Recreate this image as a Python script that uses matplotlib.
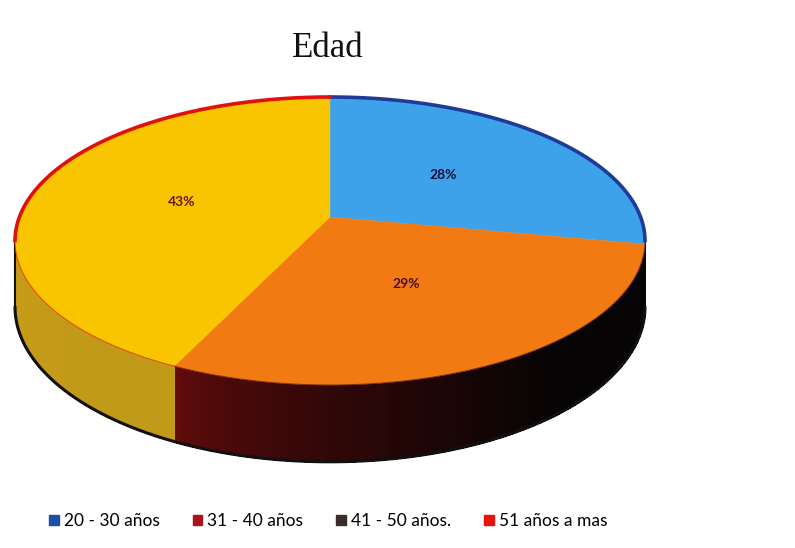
import numpy as np
import matplotlib
matplotlib.use("Agg")
import matplotlib.pyplot as plt
from matplotlib.patches import Patch
from matplotlib.colors import to_rgb

# ---------------- data ----------------
title = "Edad"
categories = ["20 - 30 años", "31 - 40 años", "41 - 50 años.", "51 años a mas"]
values = [28, 29, 0, 43]
pct_labels = ["28%", "29%", "", "43%"]

# ---------------- styles ----------------
legend_colors = ["#1f4fa3", "#a8141a", "#3b2b2b", "#e8140c"]
top_colors = ["#3ea2ea", "#f27a12", "#3b2b2b", "#f9c400"]
side_left = ["#1c1c48", "#6a0c0c", "#2a2020", "#cc9c14"]
side_right = ["#0a0a20", "#060404", "#2a2020", "#c29a1a"]
edge_colors = ["#1e3c96", "#5a1a0a", "#2a2020", "#e01010"]
label_colors = ["#10103a", "#4a0e0e", "#2a2020", "#6e1010"]

# projection geometry (pixels)
cx, cy = 330.0, 217.0
kx, ky = 310.6, 140.0
s = 1.0 / 6.0
h = 64.0

def proj(f, t_deg, z=0.0):
    t = np.radians(t_deg)
    a = f * np.cos(t)
    b = f * np.sin(t)
    den = 1 + s * b
    x = cx + kx * a / den
    y = cy + (-ky * b + h * z) / den
    return x, y

fig = plt.figure(figsize=(7.95, 5.48), dpi=100)
ax = fig.add_axes([0, 0, 1, 1])
ax.set_xlim(0, 795)
ax.set_ylim(548, 0)
ax.axis("off")

total = float(sum(values))
cum = np.concatenate([[0], np.cumsum(values)])
t_starts = 90 - 360 * cum[:-1] / total
t_ends = 90 - 360 * cum[1:] / total

tR = -np.degrees(np.arcsin(s))
tL = -180 + np.degrees(np.arcsin(s))

# ---- sides ----
for i, v in enumerate(values):
    if v <= 0:
        continue
    lo = max(t_ends[i], tL)
    hi = min(t_starts[i], tR)
    if hi <= lo:
        continue
    n = max(2, int((hi - lo) * 1.5))
    ts = np.linspace(lo, hi, n + 1)
    cL = np.array(to_rgb(side_left[i]))
    cRr = np.array(to_rgb(side_right[i]))
    for j in range(n):
        ta, tb = ts[j], ts[j + 1]
        w = ((ta + tb) / 2 - lo) / (hi - lo)
        w = min(1.0, w * 1.6) ** 0.6
        col = cL * (1 - w) + cRr * w
        seg = np.linspace(ta, tb, 3)
        xt, yt = proj(1, seg)
        xb, yb = proj(1, seg[::-1], 1)
        ax.fill(np.concatenate([xt, xb]), np.concatenate([yt, yb]),
                color=col, lw=1.0, ec=col, zorder=2, antialiased=False)

# bottom outline
tb_all = np.linspace(tL, tR, 300)
xb, yb = proj(1, tb_all, 1)
ax.plot(xb, yb, color="#111111", lw=2.2, zorder=3, solid_capstyle="round")
xl0, yl0 = proj(1, tL)
xl1, yl1 = proj(1, tL, 1)
ax.plot([xl0, xl1], [yl0, yl1], color="#111111", lw=1.5, zorder=3)

# ---- top faces ----
for i, v in enumerate(values):
    if v <= 0:
        continue
    ts = np.linspace(t_ends[i], t_starts[i], 200)
    x, y = proj(1, ts)
    x0, y0 = proj(0, 0)
    ax.fill(np.concatenate([[x0], x]), np.concatenate([[y0], y]),
            color=top_colors[i], lw=0.3, ec=top_colors[i], zorder=4)

# top edges
for i, v in enumerate(values):
    if v <= 0:
        continue
    ts = np.linspace(t_ends[i], t_starts[i], 300)
    t_norm = ((ts + 180) % 360) - 180
    back = ~((t_norm > tL) & (t_norm < tR))
    x, y = proj(1, ts)
    xb_, yb_ = np.where(back, x, np.nan), np.where(back, y, np.nan)
    ax.plot(xb_, yb_, color=edge_colors[i], lw=2.6, zorder=5)
    xf_, yf_ = np.where(~back, x, np.nan), np.where(~back, y, np.nan)
    ax.plot(xf_, yf_, color=edge_colors[i], lw=0.8, zorder=5, alpha=0.6)

# ---- labels ----
for i, v in enumerate(values):
    if v <= 0 or not pct_labels[i]:
        continue
    tm = (t_starts[i] + t_ends[i]) / 2
    x, y = proj(0.5, tm)
    ax.text(x, y, pct_labels[i], ha="center", va="center", fontsize=10,
            fontweight="bold", family="Lato", color=label_colors[i], zorder=6)

# ---- title ----
fig.text(0.412, 0.912, title, ha="center", va="center", fontsize=25,
         family="Liberation Serif", color="#111111")

# ---- legend ----
handles = [Patch(facecolor=c, edgecolor=c) for c in legend_colors]
fig.legend(handles, categories, loc="center", bbox_to_anchor=(0.413, 0.049),
           ncol=4, frameon=False, handlelength=0.55, handleheight=0.55,
           handletextpad=0.3, columnspacing=1.9,
           prop=dict(family="Lato", size=12.5))

fig.savefig("out.png", dpi=100, facecolor="white")
